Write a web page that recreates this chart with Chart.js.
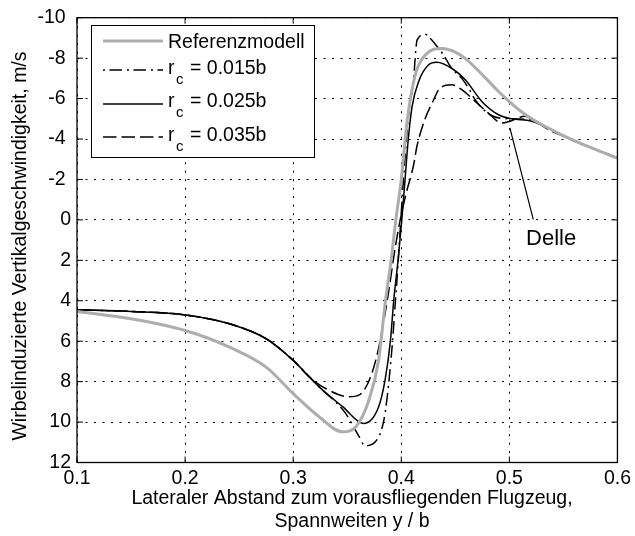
<!DOCTYPE html>
<html>
<head>
<meta charset="utf-8">
<script src="https://cdn.jsdelivr.net/npm/chart.js@4/dist/chart.umd.min.js"></script>
<style>
  html, body { margin: 0; padding: 0; background: #fff; }
  canvas { display: block; }
</style>
</head>
<body>
<canvas id="myChart" width="635" height="536"></canvas>
<script>
// values (y axis is reversed: -10 at top)
const xTicks = [0.1, 0.2, 0.3, 0.4, 0.5, 0.6];
const yTicks = [-10, -8, -6, -4, -2, 0, 2, 4, 6, 8, 10, 12];

// Referenzmodell (grey)
const xRef = [0.1, 0.15, 0.2, 0.241, 0.275, 0.3, 0.324, 0.3455, 0.358, 0.37, 0.379, 0.3854, 0.3906, 0.395, 0.4, 0.4054, 0.413, 0.4223, 0.4377, 0.45, 0.46, 0.47, 0.48, 0.49, 0.5, 0.51, 0.5237, 0.548, 0.576, 0.6];
const yRef = [4.53, 4.89, 5.47, 6.29, 7.28, 8.59, 9.74, 10.48, 10.23, 8.92, 6.95, 4.0, 2.0, 0, -2, -4.88, -7.18, -8.16, -8.48, -8.3, -7.95, -7.45, -6.9, -6.35, -5.85, -5.4, -4.9, -4.22, -3.56, -3.05];

// r_c = 0.015b (dash-dot)
const x015 = [0.1, 0.15, 0.2, 0.241, 0.275, 0.3, 0.324, 0.3485, 0.361, 0.3664, 0.3793, 0.3839, 0.387, 0.3915, 0.3946, 0.396, 0.3996, 0.402, 0.407, 0.411, 0.4147, 0.4223, 0.4253, 0.4315, 0.439, 0.4466, 0.456, 0.4622, 0.4684, 0.4822, 0.5, 0.52, 0.533, 0.554, 0.576, 0.6];
const y015 = [4.45, 4.53, 4.7, 5.14, 5.88, 6.95, 8.26, 9.57, 10.72, 11.17, 10.72, 9.9, 8.75, 6.29, 4.0, 3.0, 0, -2, -5.3, -6.75, -8.9, -9.18, -9.06, -8.69, -8.16, -7.5, -7.0, -6.52, -5.94, -5.2, -5.0, -4.95, -4.63, -4.05, -3.56, -3.07];

// r_c = 0.025b (solid)
const x025 = [0.1, 0.15, 0.2, 0.241, 0.275, 0.3, 0.324, 0.346, 0.365, 0.379, 0.385, 0.39, 0.393, 0.397, 0.4005, 0.4035, 0.4065, 0.41, 0.4161, 0.4253, 0.433, 0.4466, 0.4592, 0.4745, 0.49, 0.502, 0.5206, 0.536, 0.554, 0.576, 0.6];
const y025 = [4.45, 4.53, 4.7, 5.14, 5.88, 6.95, 8.26, 9.25, 10.07, 9.25, 7.93, 5.96, 4.0, 2.0, 0, -2, -4, -5.6, -6.85, -7.67, -7.8, -7.5, -6.93, -5.86, -5.2, -5.0, -4.88, -4.55, -4.05, -3.56, -3.07];

// r_c = 0.035b (dashed)
const x035 = [0.1, 0.15, 0.2, 0.241, 0.275, 0.3, 0.3147, 0.33, 0.3516, 0.3608, 0.3716, 0.3793, 0.3839, 0.3885, 0.394, 0.399, 0.404, 0.4115, 0.4145, 0.4223, 0.43, 0.4346, 0.4468, 0.456, 0.4684, 0.4806, 0.4929, 0.5006, 0.5145, 0.5267, 0.536, 0.554, 0.576, 0.6];
const y035 = [4.45, 4.53, 4.7, 5.14, 5.88, 6.95, 7.77, 8.34, 8.75, 8.67, 7.77, 6.29, 4.98, 3.5, 1.5, 0, -1.2, -2.74, -3.64, -5.04, -5.94, -6.44, -6.68, -6.44, -5.86, -5.28, -4.79, -4.88, -5.12, -4.79, -4.47, -4.05, -3.56, -3.07];

// "Delle" annotation
const delleLineX = [0.5005, 0.5221];
const delleLineY = [-4.55, -0.03];
const delleTextX = 0.5154;
const delleTextY = 1.23;

const legendNames = ['Referenzmodell', '0.015b', '0.025b', '0.035b'];

const FONT = "'Liberation Sans', Arial, sans-serif";
const GREY = '#adadad';
const styles = [
    { color: GREY, width: 3, dash: [] },
    { color: '#000', width: 1.5, dash: [2, 4.5, 12.5, 5] },
    { color: '#000', width: 1.5, dash: [] },
    { color: '#000', width: 1.5, dash: [13.5, 5] }
];

function toPoints(xs, ys) {
    return xs.map((v, i) => ({ x: v, y: ys[i] }));
}

function makeSet(xs, ys, s) {
    return {
        data: toPoints(xs, ys),
        borderColor: s.color,
        borderWidth: s.width,
        borderDash: s.dash,
        pointRadius: 0,
        fill: false,
        cubicInterpolationMode: 'monotone'
    };
}

const decorations = {
    id: 'decorations',
    afterDatasetsDraw(chart) {
        const { ctx, chartArea: a, scales: { x, y } } = chart;
        ctx.save();
        ctx.strokeStyle = '#000';
        ctx.fillStyle = '#000';

        // annotation
        ctx.lineWidth = 1.2;
        ctx.beginPath();
        ctx.moveTo(x.getPixelForValue(delleLineX[0]), y.getPixelForValue(delleLineY[0]));
        ctx.lineTo(x.getPixelForValue(delleLineX[1]), y.getPixelForValue(delleLineY[1]));
        ctx.stroke();
        ctx.font = '22px ' + FONT;
        ctx.textAlign = 'left';
        ctx.textBaseline = 'alphabetic';
        ctx.fillText('Delle', x.getPixelForValue(delleTextX), y.getPixelForValue(delleTextY));

        // frame and inward ticks
        ctx.lineWidth = 1.3;
        ctx.strokeRect(a.left, a.top, a.right - a.left, a.bottom - a.top);
        ctx.lineWidth = 1;
        ctx.beginPath();
        xTicks.forEach(v => {
            const px = x.getPixelForValue(v);
            ctx.moveTo(px, a.bottom); ctx.lineTo(px, a.bottom - 6);
            ctx.moveTo(px, a.top); ctx.lineTo(px, a.top + 6);
        });
        yTicks.forEach(v => {
            const py = y.getPixelForValue(v);
            ctx.moveTo(a.left, py); ctx.lineTo(a.left + 6, py);
            ctx.moveTo(a.right, py); ctx.lineTo(a.right - 6, py);
        });
        ctx.stroke();

        // legend
        const bx = 91, by = 25, bw = 223, bh = 132;
        ctx.fillStyle = '#fff';
        ctx.fillRect(bx, by, bw, bh);
        ctx.lineWidth = 1;
        ctx.strokeStyle = '#000';
        ctx.strokeRect(bx + 0.5, by + 0.5, bw, bh);
        const rowLine = [41, 70, 104, 137];
        const rowBase = [47.5, 73.5, 107, 140.5];
        legendNames.forEach((name, i) => {
            const s = styles[i];
            ctx.strokeStyle = s.color;
            ctx.lineWidth = s.width;
            ctx.setLineDash(s.dash);
            ctx.beginPath();
            ctx.moveTo(103, rowLine[i]);
            ctx.lineTo(163, rowLine[i]);
            ctx.stroke();
            ctx.setLineDash([]);
            ctx.fillStyle = '#000';
            ctx.textAlign = 'left';
            ctx.textBaseline = 'alphabetic';
            ctx.font = '19.5px ' + FONT;
            if (i === 0) {
                ctx.fillText(name, 168, rowBase[i]);
            } else {
                ctx.fillText('r', 168, rowBase[i]);
                const rw = ctx.measureText('r').width;
                ctx.font = '15px ' + FONT;
                ctx.fillText('c', 168 + rw + 1.5, rowBase[i] + 10);
                ctx.font = '19.5px ' + FONT;
                ctx.fillText('= ' + name, 190, rowBase[i]);
            }
        });

        // axis titles
        ctx.fillStyle = '#000';
        ctx.font = '19.5px ' + FONT;
        ctx.textAlign = 'center';
        ctx.textBaseline = 'alphabetic';
        ctx.fillText('Lateraler Abstand zum vorausfliegenden Flugzeug,', 352, 504);
        ctx.fillText('Spannweiten y / b', 352, 527);
        ctx.translate(26, 246);
        ctx.rotate(-Math.PI / 2);
        ctx.fillText('Wirbelinduzierte Vertikalgeschwindigkeit, m/s', 0, 0);
        ctx.restore();
    }
};

let ctx = document.getElementById('myChart').getContext('2d');
let myChart = new Chart(ctx, {
    type: 'line',
    data: {
        datasets: [
            makeSet(xRef, yRef, styles[0]),
            makeSet(x015, y015, styles[1]),
            makeSet(x025, y025, styles[2]),
            makeSet(x035, y035, styles[3])
        ]
    },
    options: {
        responsive: false,
        animation: false,
        layout: { padding: { left: 0, top: 16, right: 15.5, bottom: 0 } },
        plugins: {
            legend: { display: false },
            tooltip: { enabled: false },
            title: { display: false }
        },
        scales: {
            x: {
                type: 'linear',
                min: 0.1,
                max: 0.6,
                afterFit: s => { s.height = 73.5; },
                afterBuildTicks: s => { s.ticks = xTicks.map(v => ({ value: v })); },
                grid: { color: '#000', lineWidth: 1, drawTicks: false },
                border: { display: false, dash: [2, 6.5] },
                ticks: {
                    color: '#000',
                    padding: 4,
                    maxRotation: 0,
                    font: { family: FONT, size: 19.5 },
                    callback: v => v.toFixed(1)
                }
            },
            y: {
                type: 'linear',
                reverse: true,
                min: -10,
                max: 12,
                afterFit: s => { s.width = 77; },
                afterBuildTicks: s => { s.ticks = yTicks.map(v => ({ value: v })); },
                grid: { color: '#000', lineWidth: 1, drawTicks: false },
                border: { display: false, dash: [2, 6.5] },
                ticks: {
                    color: '#000',
                    padding: 6,
                    font: { family: FONT, size: 19.5 },
                    callback: v => (v < 0 ? v + ' ' : String(v))
                }
            }
        }
    },
    plugins: [decorations]
});
</script>
</body>
</html>
